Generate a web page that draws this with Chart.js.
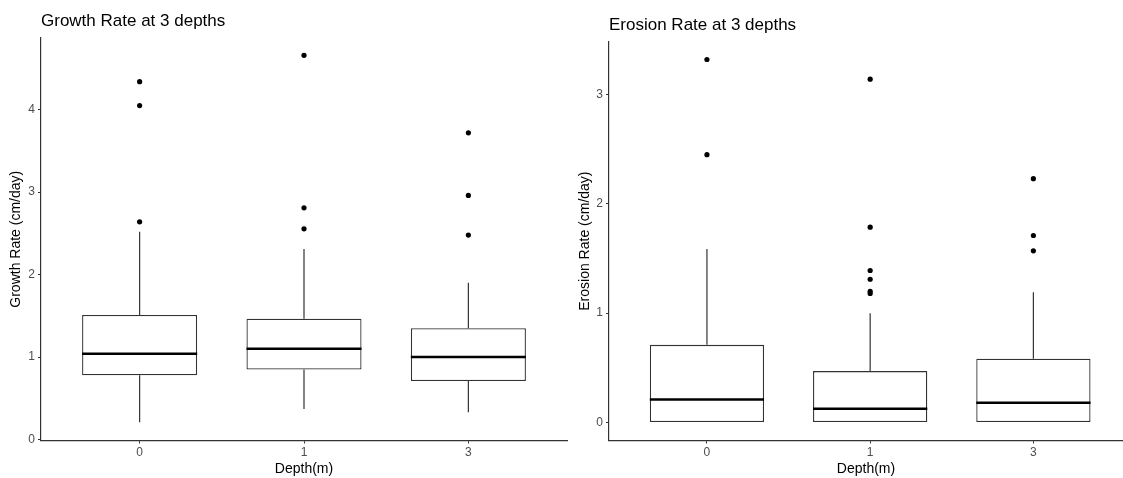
<!DOCTYPE html>
<html>
<head>
<meta charset="utf-8">
<script src="https://cdn.jsdelivr.net/npm/chart.js@4/dist/chart.umd.min.js"></script>
<style>
  body { margin: 0; background: #fff; }
  canvas { position: absolute; top: 0; }
</style>
</head>
<body>
<canvas id="chartGrowth" width="570" height="478" style="left:0"></canvas>
<canvas id="chartErosion" width="553" height="478" style="left:570px"></canvas>
<script>
// categorias (profundidad)
const depths = ["0", "1", "3"];

// Growth rate
const growthLow = [0.21, 0.37, 0.33];
const growthQ1 = [0.78, 0.85, 0.71];
const growthMedian = [1.04, 1.10, 1.00];
const growthQ3 = [1.51, 1.465, 1.35];
const growthHigh = [2.52, 2.31, 1.90];
const growthOutliers = [[4.34, 4.05, 2.64], [4.66, 2.81, 2.555], [3.72, 2.96, 2.48]];
const growthTicks = [0, 1, 2, 3, 4];

// Erosion rate
const erosionLow = [0, 0, 0];
const erosionQ1 = [0, 0, 0];
const erosionMedian = [0.21, 0.125, 0.18];
const erosionQ3 = [0.71, 0.47, 0.583];
const erosionHigh = [1.587, 1.0, 1.19];
const erosionOutliers = [[3.32, 2.45], [3.14, 1.786, 1.39, 1.31, 1.20, 1.18], [2.23, 1.71, 1.57]];
const erosionTicks = [0, 1, 2, 3];

const fontFam = "'Liberation Sans', Arial, sans-serif";

// bigotes y mediana
const boxExtras = {
  id: "boxExtras",
  afterDatasetsDraw(chart, args, opts) {
    const ctx = chart.ctx;
    const x = chart.scales.x;
    const y = chart.scales.y;
    const bars = chart.getDatasetMeta(0).data;
    ctx.save();
    ctx.strokeStyle = "#333";
    ctx.lineWidth = 1.2;
    for (let i = 0; i < depths.length; i++) {
      const px = x.getPixelForValue(i);
      ctx.beginPath();
      if (opts.high[i] > opts.q3[i]) {
        ctx.moveTo(px, y.getPixelForValue(opts.q3[i]));
        ctx.lineTo(px, y.getPixelForValue(opts.high[i]));
      }
      if (opts.low[i] < opts.q1[i]) {
        ctx.moveTo(px, y.getPixelForValue(opts.q1[i]));
        ctx.lineTo(px, y.getPixelForValue(opts.low[i]));
      }
      ctx.stroke();
    }
    ctx.strokeStyle = "#000";
    ctx.lineWidth = 2.6;
    for (let i = 0; i < depths.length; i++) {
      const b = bars[i];
      const py = y.getPixelForValue(opts.median[i]);
      ctx.beginPath();
      ctx.moveTo(b.x - b.width / 2, py);
      ctx.lineTo(b.x + b.width / 2, py);
      ctx.stroke();
    }
    ctx.restore();
  },
};

function makeChart(id, cfg) {
  return new Chart(id, {
    type: "bar",
    data: {
      datasets: [
        {
          data: cfg.q1.map((v, i) => ({ x: i, y: [v, cfg.q3[i]] })),
          backgroundColor: "#fff",
          borderColor: "#333",
          borderWidth: 1.3,
          borderSkipped: false,
          categoryPercentage: 1,
          barPercentage: 0.7,
        },
        {
          type: "scatter",
          data: cfg.outliers.flatMap((arr, i) => arr.map((v) => ({ x: i, y: v }))),
          backgroundColor: "#000",
          borderColor: "#000",
          pointRadius: 2.6,
          borderWidth: 0,
        },
      ],
    },
    options: {
      responsive: false,
      animation: false,
      layout: { padding: { right: cfg.padRight }, autoPadding: false },
      plugins: {
        legend: { display: false },
        tooltip: { enabled: false },
        title: {
          display: true,
          text: cfg.title,
          align: "start",
          fullSize: false,
          color: "#000",
          font: { family: fontFam, size: 17, weight: "normal" },
          padding: { top: cfg.titleTop, bottom: cfg.titleBottom },
        },
        boxExtras: {
          low: cfg.low,
          q1: cfg.q1,
          median: cfg.median,
          q3: cfg.q3,
          high: cfg.high,
        },
      },
      scales: {
        x: {
          type: "linear",
          min: -0.6,
          max: cfg.xMax,
          offset: false,
          afterBuildTicks: (s) => { s.ticks = depths.map((d, i) => ({ value: i })); },
          afterFit: (s) => { s.height = 37.5; },
          grid: { offset: false, drawOnChartArea: false, tickLength: 3, color: "#333" },
          border: { color: "#333", width: 1.2 },
          ticks: {
            padding: 2,
            color: "#4d4d4d",
            font: { family: fontFam, size: 12 },
            callback: (v) => depths[v],
          },
          title: {
            display: true,
            text: "Depth(m)",
            color: "#000",
            font: { family: fontFam, size: 14 },
            padding: { top: 0, bottom: 0 },
          },
        },
        y: {
          min: cfg.yMin,
          max: cfg.yMax,
          afterBuildTicks: (s) => { s.ticks = cfg.ticks.map((v) => ({ value: v })); },
          afterFit: (s) => { s.width = cfg.yWidth; },
          grid: { drawOnChartArea: false, tickLength: 3, color: "#333" },
          border: { color: "#333", width: 1.2 },
          ticks: {
            padding: 3,
            color: "#4d4d4d",
            font: { family: fontFam, size: 12 },
          },
          title: {
            display: true,
            text: cfg.yTitle,
            color: "#000",
            font: { family: fontFam, size: 14 },
            padding: { top: cfg.yTitlePad, bottom: 0 },
          },
        },
      },
    },
    plugins: [boxExtras],
  });
}

makeChart("chartGrowth", {
  title: "Growth Rate at 3 depths",
  yTitle: "Growth Rate (cm/day)",
  low: growthLow, q1: growthQ1, median: growthMedian, q3: growthQ3, high: growthHigh,
  outliers: growthOutliers,
  ticks: growthTicks,
  yMin: -0.012, yMax: 4.87, xMax: 2.6,
  yWidth: 41, yTitlePad: 8, padRight: 3,
  titleTop: 11, titleBottom: 6.6,
});

makeChart("chartErosion", {
  title: "Erosion Rate at 3 depths",
  yTitle: "Erosion Rate (cm/day)",
  low: erosionLow, q1: erosionQ1, median: erosionMedian, q3: erosionQ3, high: erosionHigh,
  outliers: erosionOutliers,
  ticks: erosionTicks,
  yMin: -0.165, yMax: 3.483, xMax: 2.549,
  yWidth: 39, yTitlePad: 6.6, padRight: 0,
  titleTop: 15.4, titleBottom: 5.9,
});
</script>
</body>
</html>
